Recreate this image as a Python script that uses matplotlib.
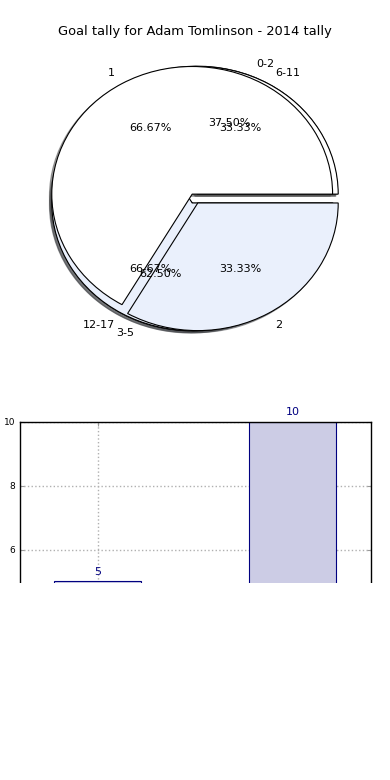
import matplotlib
matplotlib.use('Agg')
import matplotlib.pyplot as plt
from matplotlib.patches import Rectangle

# pie data (three pies drawn on the same axes)
tally_labels = ['1', '2']
tally_values = [2, 1]
ages_a_labels = ['0-2', '3-5']
ages_a_values = [3, 5]
ages_b_labels = ['6-11', '12-17']
ages_b_values = [1, 2]

# bar data
bar_labels = ['2013', '2014']
bar_values = [5, 10]

pie_colors = ['#ffffff', '#eaf0fc']
explode = [0.04, 0.04]
wedge_style = dict(edgecolor='black', linewidth=0.8)

fig, (ax1, ax2) = plt.subplots(2, 1, figsize=(3.9, 7.8), dpi=100)
fig.subplots_adjust(left=0.05, right=0.95, bottom=0.05, top=0.95, hspace=0.2)

for vals, labs in [(ages_a_values, ages_a_labels),
                   (ages_b_values, ages_b_labels),
                   (tally_values, tally_labels)]:
    ax1.pie(vals, labels=labs, colors=pie_colors, explode=explode,
            autopct='%1.2f%%', shadow={'ox': -0.012, 'oy': -0.012},
            wedgeprops=wedge_style, textprops=dict(fontsize=8))
ax1.set_aspect('auto')
ax1.set_xlim(-1.25, 1.25)
ax1.set_ylim(-1.25, 1.25)
ax1.set_title('Goal tally for Adam Tomlinson - 2014 tally', fontsize=9.4, pad=3)

x = range(len(bar_values))
bars = ax2.bar(x, bar_values, width=0.45, color='#cccce5',
               edgecolor='navy', linewidth=0.8)
for b, v in zip(bars, bar_values):
    ax2.text(b.get_x() + b.get_width() / 2, v + 0.15, str(v),
             ha='center', va='bottom', color='navy', fontsize=8)
ax2.set_xlim(-0.4, 1.4)
ax2.set_ylim(0, 10)
ax2.set_xticks(list(x))
ax2.set_xticklabels(bar_labels)
ax2.set_yticks([0, 2, 4, 6, 8, 10])
ax2.set_ylabel('Goal tally')
ax2.grid(True, linestyle=':', color='#b0b0b0', linewidth=1)
ax2.set_axisbelow(True)
ax2.tick_params(direction='in', length=3, color='#999999', labelsize=6.5,
                top=True, right=True, pad=3)
for s in ax2.spines.values():
    s.set_linewidth(1)

# lower part of the figure is blank in the reference
fig.add_artist(Rectangle((0, 0), 1, 1 - 583 / 780, transform=fig.transFigure,
                         facecolor='white', edgecolor='none', zorder=10))

fig.savefig('out.png', dpi=100)
